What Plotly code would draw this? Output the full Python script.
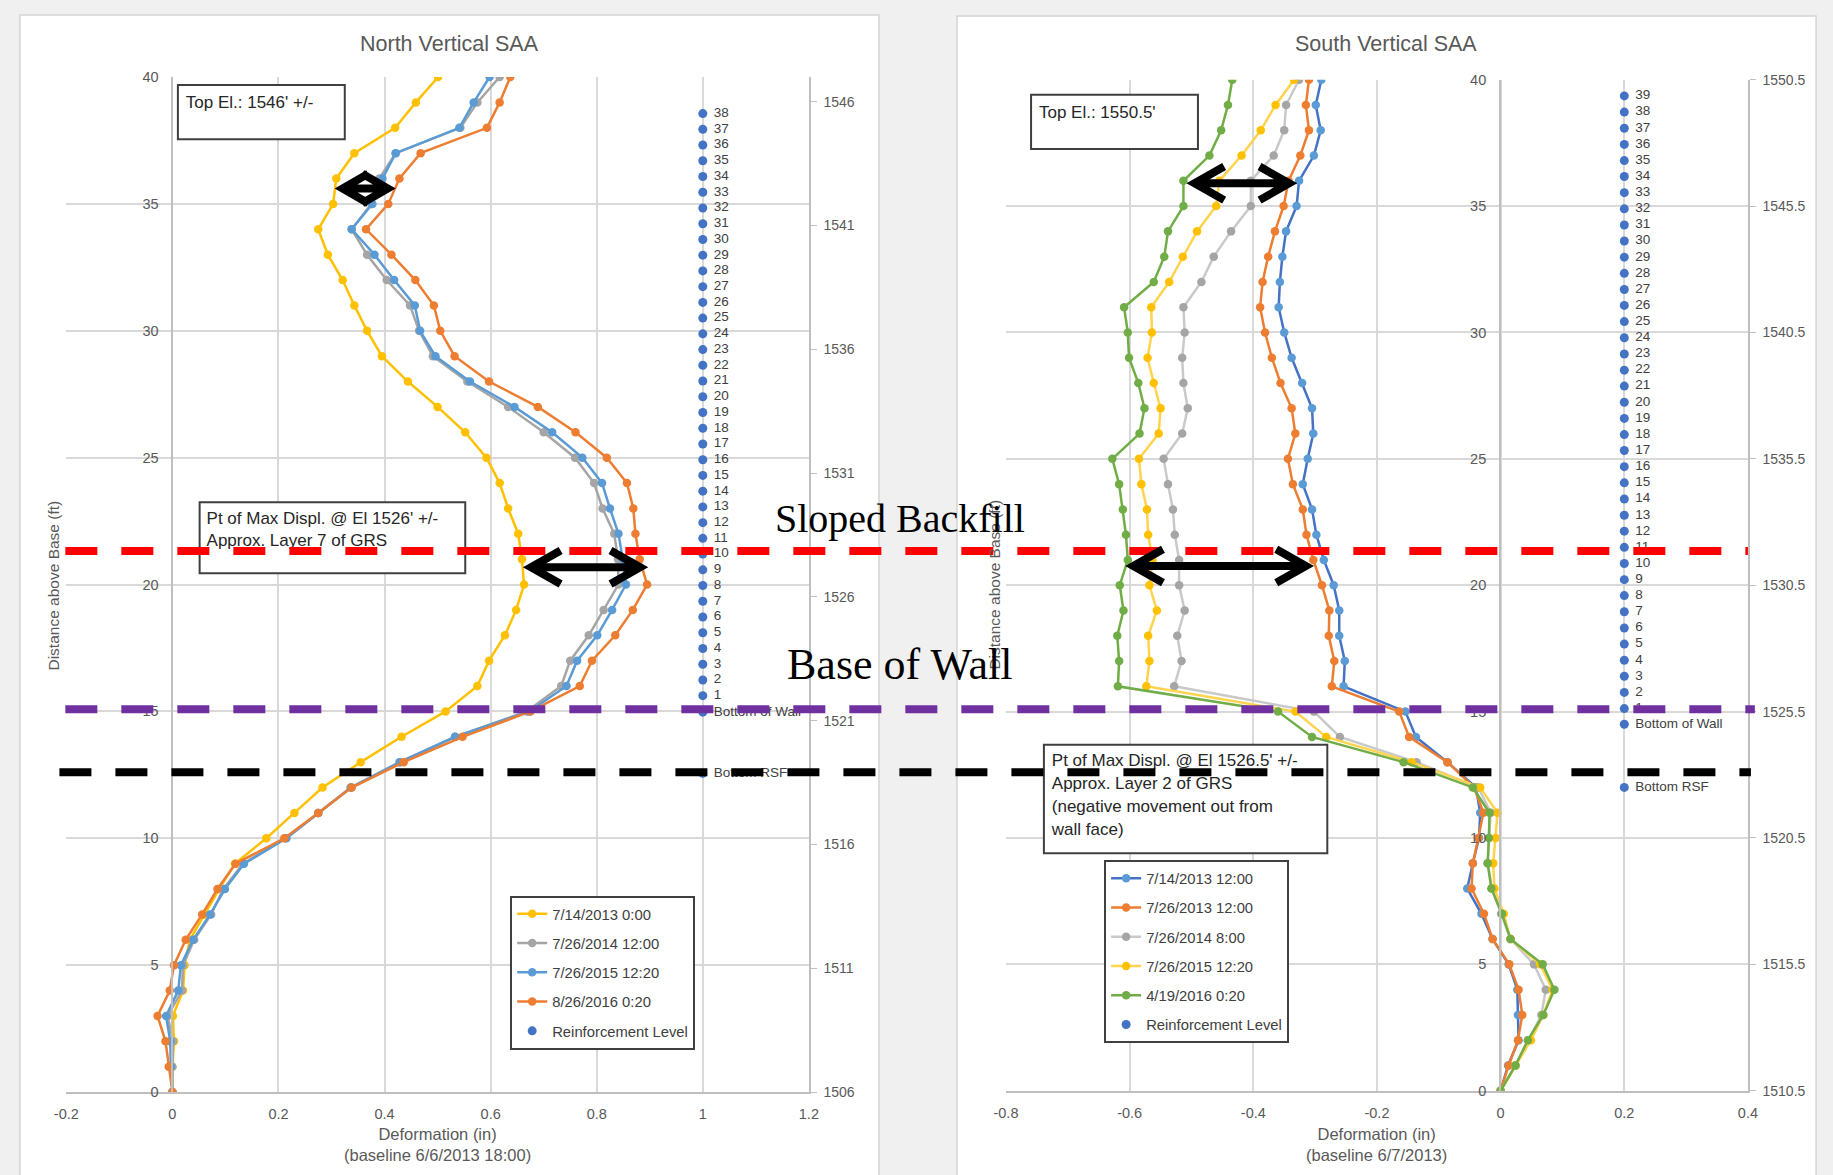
import math
import plotly.graph_objects as go

# ---------------------------------------------------------------------------
# Page / style constants
# ---------------------------------------------------------------------------
W, H = 1833, 1175
FONT = "Liberation Sans, Arial, sans-serif"
SERIF = "Liberation Serif, Times New Roman, serif"
GREY_TXT = "#595959"
DARK_TXT = "#404040"
GRID = "#d9d9d9"
AXIS = "#bfbfbf"


def fx(px):
    """page pixel x -> paper fraction"""
    return px / W


def fy(py):
    """page pixel y -> paper fraction"""
    return 1 - py / H


# ---------------------------------------------------------------------------
# Data
# ---------------------------------------------------------------------------
# SAA node heights above the base of the instrument (ft)
node_ft = [0, 1, 2, 3, 4, 5, 6, 7, 8, 9, 10, 11, 12, 13, 14, 15, 16, 17, 18, 19, 20,
           21, 22, 23, 24, 25, 26, 27, 28, 29, 30, 31, 32, 33, 34, 35, 36, 37, 38, 39, 40]

# North Vertical SAA - deformation (in), listed from 0 ft up to 40 ft
north_names = ["7/14/2013 0:00", "7/26/2014 12:00", "7/26/2015 12:20", "8/26/2016 0:20"]
north_2013 = [0.0, 0.0, 0.003, 0.001, 0.02, 0.023, 0.033, 0.06, 0.088, 0.118, 0.177,
              0.23, 0.283, 0.355, 0.432, 0.515, 0.575, 0.597, 0.627, 0.648, 0.663,
              0.659, 0.652, 0.633, 0.617, 0.592, 0.552, 0.50, 0.444, 0.395, 0.367,
              0.343, 0.321, 0.293, 0.275, 0.303, 0.309, 0.343, 0.42, 0.459, 0.501]
north_2014 = [0.0, 0.0, 0.001, -0.009, 0.018, 0.02, 0.041, 0.073, 0.096, 0.133, 0.213,
              0.275, 0.336, 0.428, 0.533, 0.668, 0.733, 0.75, 0.785, 0.813, 0.841,
              0.84, 0.833, 0.811, 0.795, 0.759, 0.70, 0.633, 0.556, 0.491, 0.465,
              0.448, 0.404, 0.367, 0.338, 0.375, 0.39, 0.421, 0.543, 0.575, 0.617]
north_2015 = [0.0, -0.003, -0.004, -0.012, 0.011, 0.016, 0.039, 0.071, 0.099, 0.135, 0.215,
              0.275, 0.337, 0.429, 0.533, 0.673, 0.743, 0.763, 0.801, 0.829, 0.855,
              0.849, 0.841, 0.825, 0.81, 0.773, 0.716, 0.645, 0.561, 0.496, 0.467,
              0.457, 0.418, 0.381, 0.338, 0.377, 0.396, 0.421, 0.541, 0.568, 0.598]
north_2016 = [0.0, -0.007, -0.013, -0.028, -0.005, 0.003, 0.025, 0.056, 0.085, 0.119, 0.211,
              0.275, 0.338, 0.436, 0.547, 0.675, 0.768, 0.791, 0.835, 0.868, 0.895,
              0.881, 0.873, 0.869, 0.857, 0.819, 0.76, 0.689, 0.597, 0.532, 0.505,
              0.493, 0.458, 0.413, 0.365, 0.407, 0.428, 0.468, 0.593, 0.617, 0.637]

# South Vertical SAA - deformation (in), listed from 0 ft up to 40 ft
south_names = ["7/14/2013 12:00", "7/26/2013 12:00", "7/26/2014 8:00",
               "7/26/2015 12:20", "4/19/2016 0:20"]
south_2013a = [0.0, 0.012, 0.029, 0.028, 0.027, 0.013, -0.013, -0.031, -0.054, -0.045, -0.035,
               -0.033, -0.04, -0.086, -0.137, -0.154, -0.254, -0.252, -0.261, -0.261, -0.27,
               -0.286, -0.298, -0.305, -0.32, -0.312, -0.303, -0.305, -0.321, -0.338, -0.35,
               -0.359, -0.357, -0.353, -0.347, -0.33, -0.326, -0.302, -0.291, -0.299, -0.29]
south_2013b = [0.0, 0.013, 0.028, 0.035, 0.029, 0.014, -0.013, -0.027, -0.047, -0.045, -0.036,
               -0.028, -0.043, -0.086, -0.148, -0.164, -0.273, -0.269, -0.278, -0.277, -0.289,
               -0.303, -0.314, -0.32, -0.336, -0.344, -0.332, -0.338, -0.356, -0.37, -0.381,
               -0.389, -0.385, -0.376, -0.365, -0.351, -0.343, -0.324, -0.31, -0.315, -0.31]
south_2014 = [0.0, 0.024, 0.045, 0.066, 0.073, 0.054, 0.016, 0.001, -0.014, -0.021, -0.019,
              -0.016, -0.036, -0.136, -0.26, -0.302, -0.528, -0.516, -0.523, -0.511, -0.52,
              -0.52, -0.527, -0.53, -0.538, -0.545, -0.515, -0.506, -0.513, -0.515, -0.511,
              -0.513, -0.484, -0.464, -0.436, -0.404, -0.404, -0.367, -0.35, -0.347, -0.326]
south_2015 = [0.0, 0.024, 0.049, 0.069, 0.084, 0.064, 0.016, 0.005, -0.01, -0.012, -0.008,
              -0.005, -0.033, -0.144, -0.282, -0.332, -0.573, -0.568, -0.57, -0.556, -0.568,
              -0.563, -0.57, -0.572, -0.581, -0.585, -0.553, -0.55, -0.561, -0.571, -0.564,
              -0.565, -0.536, -0.514, -0.491, -0.46, -0.455, -0.419, -0.388, -0.364, -0.334]
south_2016 = [0.0, 0.024, 0.044, 0.069, 0.087, 0.068, 0.016, 0.002, -0.015, -0.021, -0.019,
              -0.018, -0.045, -0.157, -0.305, -0.36, -0.619, -0.617, -0.62, -0.61, -0.616,
              -0.603, -0.606, -0.611, -0.617, -0.628, -0.584, -0.576, -0.586, -0.601, -0.603,
              -0.609, -0.561, -0.544, -0.538, -0.513, -0.513, -0.471, -0.452, -0.441, -0.434]

# Reinforcement levels (height above base, ft) and their labels
north_reinf_ft = [15.62, 16.24, 16.86, 17.48, 18.10, 18.72, 19.34, 19.96, 20.58, 21.20,
                  21.82, 22.44, 23.06, 23.68, 24.30, 24.92, 25.54, 26.16, 26.78, 27.40,
                  28.02, 28.64, 29.26, 29.88, 30.50, 31.12, 31.74, 32.36, 32.98, 33.60,
                  34.22, 34.84, 35.46, 36.08, 36.70, 37.32, 37.94, 38.56, 14.97, 12.56]
north_reinf_labels = [str(n) for n in range(1, 39)] + ["Bottom of Wall", "Bottom RSF"]
north_reinf_x = 1.0

south_reinf_ft = [15.12, 15.76, 16.40, 17.03, 17.67, 18.31, 18.95, 19.59, 20.22, 20.86,
                  21.50, 22.14, 22.77, 23.41, 24.05, 24.69, 25.33, 25.96, 26.60, 27.24,
                  27.88, 28.51, 29.15, 29.79, 30.43, 31.07, 31.70, 32.34, 32.98, 33.62,
                  34.25, 34.89, 35.53, 36.17, 36.80, 37.44, 38.08, 38.72, 39.36, 14.50, 12.00]
south_reinf_labels = [str(n) for n in range(1, 40)] + ["Bottom of Wall", "Bottom RSF"]
south_reinf_x = 0.2

# Axis ticks
height_ticks = [0, 5, 10, 15, 20, 25, 30, 35, 40]
north_x_ticks = [-0.2, 0, 0.2, 0.4, 0.6, 0.8, 1, 1.2]
north_x_labels = ["-0.2", "0", "0.2", "0.4", "0.6", "0.8", "1", "1.2"]
north_elev_ticks = [1506, 1511, 1516, 1521, 1526, 1531, 1536, 1541, 1546]
north_elev_labels = ["1506", "1511", "1516", "1521", "1526", "1531", "1536", "1541", "1546"]
south_x_ticks = [-0.8, -0.6, -0.4, -0.2, 0, 0.2, 0.4]
south_x_labels = ["-0.8", "-0.6", "-0.4", "-0.2", "0", "0.2", "0.4"]
south_elev_ticks = [1510.5, 1515.5, 1520.5, 1525.5, 1530.5, 1535.5, 1540.5, 1545.5, 1550.5]
south_elev_labels = ["1510.5", "1515.5", "1520.5", "1525.5", "1530.5", "1535.5",
                     "1540.5", "1545.5", "1550.5"]

# Reference levels shared by both walls (ft above base, north scale)
sloped_backfill_ft = 21.32
base_of_wall_ft = 15.09
bottom_rsf_ft = 12.6

# ---------------------------------------------------------------------------
# Geometry of the two plot areas (page pixels)
# ---------------------------------------------------------------------------
NORTH = dict(left=54, right=806, top=70, bottom=1099, xr=(-0.2, 1.2), yr=(0, 40))
SOUTH = dict(left=1005.6, right=1757, top=72.7, bottom=1097.7, xr=(-0.8, 0.4), yr=(0, 40))


def px_per_unit(area):
    sx = (area["right"] - area["left"]) / (area["xr"][1] - area["xr"][0])
    sy = (area["bottom"] - area["top"]) / (area["yr"][1] - area["yr"][0])
    return sx, sy


def to_data(area, px, py):
    sx, sy = px_per_unit(area)
    return area["xr"][0] + (px - area["left"]) / sx, area["yr"][1] - (py - area["top"]) / sy


fig = go.Figure()


def add_series(xs, name, line_color, marker_color, xa, ya, legend):
    fig.add_trace(go.Scatter(
        x=xs, y=node_ft, mode="lines+markers", name=name,
        line=dict(color=line_color, width=2.5),
        marker=dict(color=marker_color, size=8.5),
        xaxis=xa, yaxis=ya, legend=legend, legendgroup=legend + name,
        hoverinfo="skip"))


def add_reinforcement(area, x_val, ys, labels, xa, ya):
    fig.add_trace(go.Scatter(
        x=[x_val] * len(ys), y=ys, mode="markers",
        marker=dict(color="#4472C4", size=9),
        xaxis=xa, yaxis=ya, showlegend=False, hoverinfo="skip"))
    # labels start ~11 px to the right of the marker centres
    label_x = x_val + 11 / px_per_unit(area)[0]
    fig.add_trace(go.Scatter(
        x=[label_x] * len(ys), y=ys, mode="text", text=labels,
        textposition="middle right",
        textfont=dict(family=FONT, size=13.5, color=DARK_TXT),
        xaxis=xa, yaxis=ya, showlegend=False, hoverinfo="skip"))


def add_reinforcement_legend(xa, ya, legend):
    fig.add_trace(go.Scatter(
        x=[None], y=[None], mode="markers", name="Reinforcement Level",
        marker=dict(color="#4472C4", size=9), xaxis=xa, yaxis=ya,
        legend=legend, legendgroup=legend + "reinf"))


# North chart
add_reinforcement(NORTH, north_reinf_x, north_reinf_ft, north_reinf_labels, "x", "y")
north_styles = [("#FFC000", "#FFC000"), ("#A5A5A5", "#A5A5A5"),
                ("#5B9BD5", "#5B9BD5"), ("#ED7D31", "#ED7D31")]
for xs, nm, (lc, mc) in zip([north_2013, north_2014, north_2015, north_2016],
                            north_names, north_styles):
    add_series(xs, nm, lc, mc, "x", "y", "legend")
add_reinforcement_legend("x", "y", "legend")

# South chart
add_reinforcement(SOUTH, south_reinf_x, south_reinf_ft, south_reinf_labels, "x2", "y2")
south_styles = [("#4472C4", "#5B9BD5"), ("#ED7D31", "#ED7D31"), ("#C9C9C9", "#A5A5A5"),
                ("#FFD34D", "#FFC000"), ("#70AD47", "#70AD47")]
for xs, nm, (lc, mc) in zip([south_2013a, south_2013b, south_2014, south_2015, south_2016],
                            south_names, south_styles):
    add_series(xs, nm, lc, mc, "x2", "y2", "legend2")
add_reinforcement_legend("x2", "y2", "legend2")

# Hidden traces so the elevation axes are drawn
fig.add_trace(go.Scatter(x=[None], y=[None], xaxis="x", yaxis="y3", showlegend=False))
fig.add_trace(go.Scatter(x=[None], y=[None], xaxis="x2", yaxis="y4", showlegend=False))

# ---------------------------------------------------------------------------
# Text boxes (rectangle + text lines)
# ---------------------------------------------------------------------------
shapes = []


def text_box(area, xa, ya, box_px, lines, first_line_py, line_gap_px, text_px):
    x0, y0 = to_data(area, box_px[0], box_px[1])
    x1, y1 = to_data(area, box_px[2], box_px[3])
    shapes.append(dict(type="rect", xref=xa, yref=ya, x0=x0, x1=x1, y0=y0, y1=y1,
                       fillcolor="white", line=dict(color="#3f3f3f", width=2),
                       layer="between"))
    xs, ys = [], []
    for i, _ in enumerate(lines):
        tx, ty = to_data(area, text_px, first_line_py + i * line_gap_px)
        xs.append(tx)
        ys.append(ty)
    fig.add_trace(go.Scatter(x=xs, y=ys, mode="text", text=lines,
                             textposition="middle right",
                             textfont=dict(family=FONT, size=17, color="#262626"),
                             xaxis=xa, yaxis=ya, showlegend=False, hoverinfo="skip"))


text_box(NORTH, "x", "y", (167, 78, 336, 133), ["Top El.: 1546' +/-"], 97, 0, 175)
text_box(NORTH, "x", "y", (189, 501, 458, 573),
         ["Pt of Max Displ. @ El 1526' +/-", "Approx. Layer 7 of GRS"], 519, 22, 196)
text_box(SOUTH, "x2", "y2", (1031, 88, 1200, 143), ["Top El.: 1550.5'"], 107, 0, 1039)
text_box(SOUTH, "x2", "y2", (1044, 747, 1331, 857),
         ["Pt of Max Displ. @ El 1526.5' +/-", "Approx. Layer 2 of GRS",
          "(negative movement out from", "wall face)"], 764, 23.3, 1052)

# ---------------------------------------------------------------------------
# Page panels, dashed reference levels, arrows
# ---------------------------------------------------------------------------
panels = [
    dict(type="rect", xref="paper", yref="paper", x0=fx(7), x1=fx(877), y0=-0.02,
         y1=fy(7), fillcolor="white", line=dict(color="#d4d4d4", width=1.5), layer="below"),
    dict(type="rect", xref="paper", yref="paper", x0=fx(956), x1=fx(1826), y0=-0.02,
         y1=fy(8), fillcolor="white", line=dict(color="#d4d4d4", width=1.5), layer="below"),
]

levels = [(sloped_backfill_ft, "#FF0000", 53, 1757),
          (base_of_wall_ft, "#7030A0", 53, 1764),
          (bottom_rsf_ft, "#000000", 47, 1760)]
dash_lines = [dict(type="line", xref="paper", yref="y", x0=fx(x0), x1=fx(x1), y0=lv, y1=lv,
                   line=dict(color=c, width=8, dash="32px,24px"), layer="above")
              for lv, c, x0, x1 in levels]


def double_arrow(area, xa, ya, x_left, x_right, y, depth=30, half=17, width=8):
    """Thick two-headed arrow; x_left/x_right are the visible tips."""
    sx, sy = px_per_unit(area)
    # pull the vertices in so the mitred stroke ends at the visible tip
    inset = (width / 2) / math.sin(math.atan2(half, depth))
    xl = x_left + inset / sx
    xr = x_right - inset / sx
    dx, dy = depth / sx, half / sy
    path = (f"M{xl},{y} L{xr},{y} "
            f"M{xl + dx},{y + dy} L{xl},{y} L{xl + dx},{y - dy} "
            f"M{xr - dx},{y + dy} L{xr},{y} L{xr - dx},{y - dy}")
    return dict(type="path", xref=xa, yref=ya, path=path,
                line=dict(color="black", width=width), layer="above")


arrows = [
    double_arrow(NORTH, "x", "y", 0.306, 0.421, 35.61, depth=26, half=15),
    double_arrow(NORTH, "x", "y", 0.661, 0.897, 20.68),
    double_arrow(SOUTH, "x2", "y2", -0.508, -0.329, 35.9),
    double_arrow(SOUTH, "x2", "y2", -0.607, -0.302, 20.76),
]

# ---------------------------------------------------------------------------
# Annotations (titles, axis titles, callouts)
# ---------------------------------------------------------------------------
annotations = [
    dict(text="North Vertical SAA", x=fx(442), y=fy(36),
         font=dict(family=FONT, size=21.5, color=GREY_TXT)),
    dict(text="South Vertical SAA", x=fx(1390), y=fy(37),
         font=dict(family=FONT, size=21.5, color=GREY_TXT)),
    dict(text="Deformation (in)<br>(baseline 6/6/2013 18:00)", x=fx(430), y=fy(1152),
         font=dict(family=FONT, size=16.5, color=GREY_TXT)),
    dict(text="Deformation (in)<br>(baseline 6/7/2013)", x=fx(1381), y=fy(1152),
         font=dict(family=FONT, size=16.5, color=GREY_TXT)),
    dict(text="Distance above Base (ft)", x=fx(41), y=fy(585), textangle=-90,
         font=dict(family=FONT, size=15.5, color=GREY_TXT)),
    dict(text="Distance above Base (ft)", x=fx(993), y=fy(585), textangle=-90,
         font=dict(family=FONT, size=15.5, color=GREY_TXT)),
    dict(text="Sloped Backfill", x=fx(898), y=fy(518),
         font=dict(family=SERIF, size=40, color="black")),
    dict(text="Base of Wall", x=fx(898), y=fy(666),
         font=dict(family=SERIF, size=44, color="black")),
]
for a in annotations:
    a.update(xref="paper", yref="paper", showarrow=False, xanchor="center", yanchor="middle")

# ---------------------------------------------------------------------------
# Axes
# ---------------------------------------------------------------------------
tick_font = dict(family=FONT, size=14.5, color=GREY_TXT)
elev_font = dict(family=FONT, size=14, color=GREY_TXT)


def dom_x(area):
    return [fx(area["left"]), fx(area["right"])]


def dom_y(area):
    return [fy(area["bottom"]), fy(area["top"])]


def x_axis(area, anchor, ticks, labels):
    return dict(domain=dom_x(area), range=list(area["xr"]), anchor=anchor,
                tickvals=ticks, ticktext=labels, showgrid=True, gridcolor=GRID,
                gridwidth=1.5, zeroline=False, showline=True, linecolor=AXIS,
                linewidth=2, ticks="", tickfont=tick_font, ticklabelstandoff=8)


def y_axis(area, zero_px):
    return dict(domain=dom_y(area), range=list(area["yr"]), anchor="free",
                position=fx(zero_px), tickvals=height_ticks, showgrid=True,
                gridcolor=GRID, gridwidth=1.5, zeroline=False, showline=True,
                linecolor=AXIS, linewidth=2, ticks="", tickfont=tick_font,
                ticklabelstandoff=10)


def elev_axis(overlay, anchor, rng, ticks, labels):
    return dict(overlaying=overlay, side="right", anchor=anchor, range=rng,
                tickvals=ticks, ticktext=labels, showgrid=False, zeroline=False,
                showline=True, linecolor=AXIS, linewidth=1.5, ticks="outside",
                ticklen=6, tickcolor=AXIS, tickfont=elev_font, ticklabelstandoff=4)


legend_common = dict(xanchor="left", yanchor="top", bgcolor="white",
                     bordercolor="#404040", borderwidth=2, tracegroupgap=7,
                     font=dict(family=FONT, size=14.8, color=DARK_TXT))

fig.update_layout(
    width=W, height=H, margin=dict(l=0, r=0, t=0, b=0), autosize=False,
    paper_bgcolor="#f0f0f0", plot_bgcolor="rgba(0,0,0,0)",
    font=dict(family=FONT, color=GREY_TXT),
    xaxis=x_axis(NORTH, "y", north_x_ticks, north_x_labels),
    yaxis=y_axis(NORTH, 161.5),
    yaxis3=elev_axis("y", "x", [1506, 1547], north_elev_ticks, north_elev_labels),
    xaxis2=x_axis(SOUTH, "y2", south_x_ticks, south_x_labels),
    yaxis2=y_axis(SOUTH, 1506),
    yaxis4=elev_axis("y2", "x2", [1510.5, 1550.5], south_elev_ticks, south_elev_labels),
    legend=dict(x=fx(503.5), y=fy(900), **legend_common),
    legend2=dict(x=fx(1105), y=fy(864), **legend_common),
    shapes=panels + shapes + dash_lines + arrows,
    annotations=annotations,
)

fig.write_html("out.html")
